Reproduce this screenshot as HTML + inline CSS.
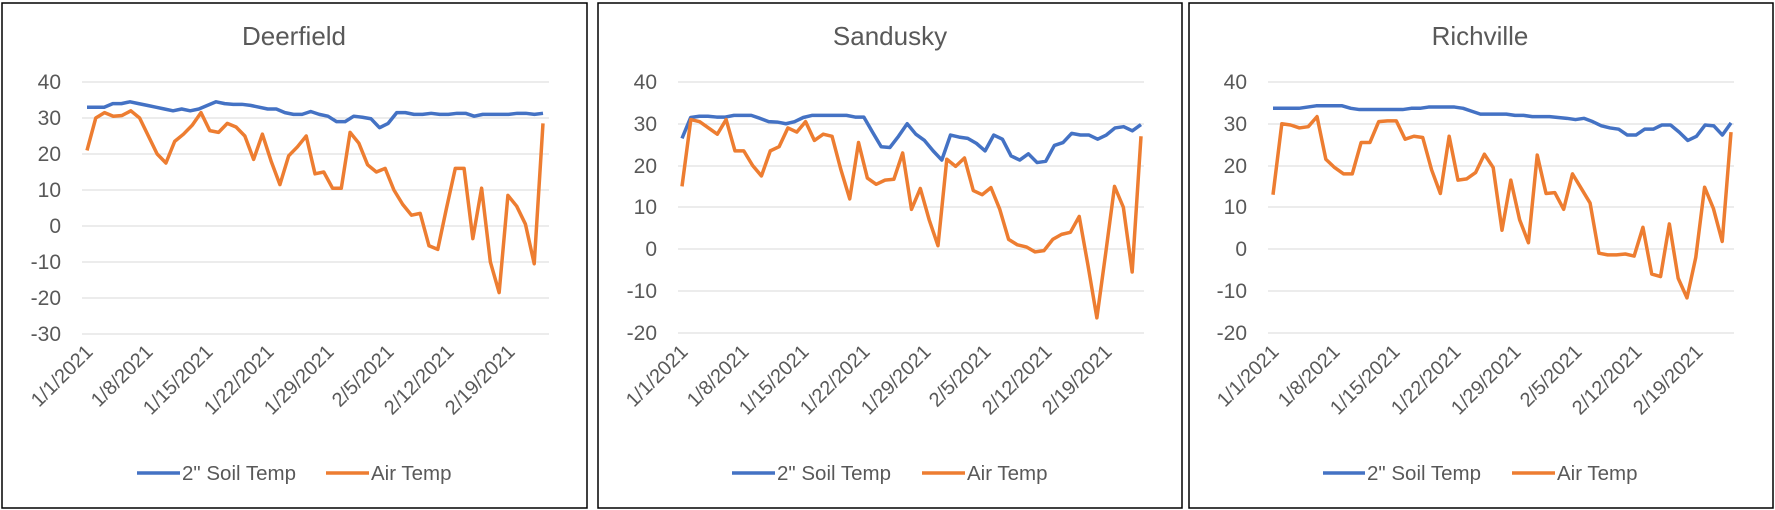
<!DOCTYPE html>
<html><head><meta charset="utf-8"><style>
html,body{margin:0;padding:0;background:#fff}
svg{display:block}
text{font-family:"Liberation Sans",Arial,sans-serif;fill:#595959}
.t{font-size:26px}
.y{font-size:21px;text-anchor:end}
.x{font-size:20px;text-anchor:end}
.l{font-size:20.5px}
.g{stroke:#d9d9d9;stroke-width:1}
.s{fill:none;stroke:#4472C4;stroke-width:3.5;vector-effect:non-scaling-stroke;stroke-linejoin:round}
.a{fill:none;stroke:#ED7D31;stroke-width:3.5;vector-effect:non-scaling-stroke;stroke-linejoin:round}
</style></head><body>
<svg width="1775" height="510" xmlns="http://www.w3.org/2000/svg">
<rect x="0" y="0" width="1775" height="510" fill="#fff"/>
<!-- Panel 1 -->
<rect x="2" y="3" width="585" height="505" fill="none" stroke="#000" stroke-width="1.5"/>
<text class="t" x="294" y="45" text-anchor="middle">Deerfield</text>
<g class="g">
<line x1="82" x2="549" y1="82" y2="82"/><line x1="82" x2="549" y1="118" y2="118"/><line x1="82" x2="549" y1="154" y2="154"/><line x1="82" x2="549" y1="190" y2="190"/><line x1="82" x2="549" y1="226" y2="226"/><line x1="82" x2="549" y1="262" y2="262"/><line x1="82" x2="549" y1="298" y2="298"/><line x1="82" x2="549" y1="334" y2="334"/>
</g>
<text class="y" x="61" y="89">40</text><text class="y" x="61" y="125">30</text><text class="y" x="61" y="161">20</text><text class="y" x="61" y="197">10</text><text class="y" x="61" y="233">0</text><text class="y" x="61" y="269">-10</text><text class="y" x="61" y="305">-20</text><text class="y" x="61" y="341">-30</text>
<g transform="translate(87,226) scale(8.604,-3.6)">
<polyline class="s" points="0,33 1,33 2,33 3,34 4,34 5,34.5 6,34 7,33.5 8,33 9,32.5 10,32 11,32.5 12,32 13,32.5 14,33.5 15,34.5 16,34 17,33.8 18,33.8 19,33.5 20,33 21,32.5 22,32.5 23,31.5 24,31 25,31 26,31.8 27,31 28,30.5 29,29 30,29 31,30.5 32,30.2 33,29.8 34,27.3 35,28.5 36,31.5 37,31.5 38,31 39,31 40,31.3 41,31 42,31 43,31.3 44,31.3 45,30.5 46,31 47,31 48,31 49,31 50,31.3 51,31.3 52,31 53,31.3"/>
</g>
<g transform="translate(87,226) scale(8.769,-3.6)">
<polyline class="a" points="0,21 1,30 2,31.5 3,30.5 4,30.7 5,32 6,30 7,25 8,20 9,17.5 10,23.5 11,25.5 12,28 13,31.5 14,26.5 15,26 16,28.5 17,27.5 18,25 19,18.5 20,25.5 21,18 22,11.5 23,19.5 24,22 25,25 26,14.5 27,15 28,10.5 29,10.5 30,26 31,23 32,17 33,15 34,16 35,10 36,6 37,3 38,3.5 39,-5.5 40,-6.5 41,5 42,16 43,16 44,-3.5 45,10.5 46,-10 47,-18.5 48,8.5 49,5.5 50,0.5 51,-10.5 52,28.5"/>
</g>
<text class="x" transform="translate(94,353) rotate(-45)">1/1/2021</text>
<text class="x" transform="translate(154,353) rotate(-45)">1/8/2021</text>
<text class="x" transform="translate(214,353) rotate(-45)">1/15/2021</text>
<text class="x" transform="translate(275,353) rotate(-45)">1/22/2021</text>
<text class="x" transform="translate(335,353) rotate(-45)">1/29/2021</text>
<text class="x" transform="translate(395,353) rotate(-45)">2/5/2021</text>
<text class="x" transform="translate(455,353) rotate(-45)">2/12/2021</text>
<text class="x" transform="translate(516,353) rotate(-45)">2/19/2021</text>
<line x1="137" x2="180" y1="473" y2="473" stroke="#4472C4" stroke-width="3.5"/>
<text class="l" x="182" y="480">2" Soil Temp</text>
<line x1="326" x2="369" y1="473" y2="473" stroke="#ED7D31" stroke-width="3.5"/>
<text class="l" x="371" y="480">Air Temp</text>

<!-- Panel 2 -->
<rect x="598" y="3" width="584" height="505" fill="none" stroke="#000" stroke-width="1.5"/>
<text class="t" x="890" y="45" text-anchor="middle">Sandusky</text>
<g class="g">
<line x1="678" x2="1144" y1="82" y2="82"/><line x1="678" x2="1144" y1="124" y2="124"/><line x1="678" x2="1144" y1="166" y2="166"/><line x1="678" x2="1144" y1="207" y2="207"/><line x1="678" x2="1144" y1="249" y2="249"/><line x1="678" x2="1144" y1="291" y2="291"/><line x1="678" x2="1144" y1="333" y2="333"/>
</g>
<text class="y" x="657" y="89">40</text><text class="y" x="657" y="131">30</text><text class="y" x="657" y="173">20</text><text class="y" x="657" y="214">10</text><text class="y" x="657" y="256">0</text><text class="y" x="657" y="298">-10</text><text class="y" x="657" y="340">-20</text>
<g transform="translate(682,249) scale(8.66,-4.175)">
<polyline class="s" points="0,26.5 1,31.5 2,31.8 3,31.8 4,31.6 5,31.6 6,32 7,32 8,32 9,31.3 10,30.5 11,30.4 12,30 13,30.5 14,31.5 15,32 16,32 17,32 18,32 19,32 20,31.6 21,31.6 22,28 23,24.5 24,24.3 25,27 26,30 27,27.5 28,26 29,23.5 30,21.3 31,27.3 32,26.8 33,26.5 34,25.3 35,23.5 36,27.3 37,26.3 38,22.3 39,21.3 40,22.8 41,20.7 42,21 43,24.8 44,25.5 45,27.7 46,27.3 47,27.3 48,26.3 49,27.3 50,29 51,29.3 52,28.3 53,29.8"/>
</g>
<g transform="translate(682,249) scale(8.827,-4.175)">
<polyline class="a" points="0,15 1,31 2,30.5 3,29 4,27.5 5,31 6,23.5 7,23.5 8,20 9,17.5 10,23.5 11,24.5 12,29 13,28 14,30.5 15,26 16,27.5 17,27 18,19 19,12 20,25.5 21,17 22,15.5 23,16.5 24,16.7 25,23 26,9.5 27,14.5 28,7 29,0.8 30,21.5 31,19.8 32,21.8 33,14 34,13 35,14.7 36,9.5 37,2.3 38,1 39,0.5 40,-0.7 41,-0.4 42,2.3 43,3.5 44,4 45,7.8 46,-4 47,-16.5 48,-1 49,15 50,10 51,-5.5 52,27"/>
</g>
<text class="x" transform="translate(689,353) rotate(-45)">1/1/2021</text>
<text class="x" transform="translate(750,353) rotate(-45)">1/8/2021</text>
<text class="x" transform="translate(810,353) rotate(-45)">1/15/2021</text>
<text class="x" transform="translate(871,353) rotate(-45)">1/22/2021</text>
<text class="x" transform="translate(932,353) rotate(-45)">1/29/2021</text>
<text class="x" transform="translate(992,353) rotate(-45)">2/5/2021</text>
<text class="x" transform="translate(1053,353) rotate(-45)">2/12/2021</text>
<text class="x" transform="translate(1113,353) rotate(-45)">2/19/2021</text>
<line x1="732" x2="775" y1="473" y2="473" stroke="#4472C4" stroke-width="3.5"/>
<text class="l" x="777" y="480">2" Soil Temp</text>
<line x1="922" x2="965" y1="473" y2="473" stroke="#ED7D31" stroke-width="3.5"/>
<text class="l" x="967" y="480">Air Temp</text>

<!-- Panel 3 -->
<rect x="1189" y="3" width="584" height="505" fill="none" stroke="#000" stroke-width="1.5"/>
<text class="t" x="1480" y="45" text-anchor="middle">Richville</text>
<g class="g">
<line x1="1268" x2="1734" y1="82" y2="82"/><line x1="1268" x2="1734" y1="124" y2="124"/><line x1="1268" x2="1734" y1="166" y2="166"/><line x1="1268" x2="1734" y1="207" y2="207"/><line x1="1268" x2="1734" y1="249" y2="249"/><line x1="1268" x2="1734" y1="291" y2="291"/><line x1="1268" x2="1734" y1="333" y2="333"/>
</g>
<text class="y" x="1247" y="89">40</text><text class="y" x="1247" y="131">30</text><text class="y" x="1247" y="173">20</text><text class="y" x="1247" y="214">10</text><text class="y" x="1247" y="256">0</text><text class="y" x="1247" y="298">-10</text><text class="y" x="1247" y="340">-20</text>
<g transform="translate(1273,249) scale(8.642,-4.175)">
<polyline class="s" points="0,33.7 1,33.7 2,33.7 3,33.7 4,34 5,34.3 6,34.3 7,34.3 8,34.3 9,33.7 10,33.4 11,33.4 12,33.4 13,33.4 14,33.4 15,33.4 16,33.7 17,33.7 18,34 19,34 20,34 21,34 22,33.7 23,33 24,32.3 25,32.3 26,32.3 27,32.3 28,32 29,32 30,31.7 31,31.7 32,31.7 33,31.5 34,31.3 35,31 36,31.3 37,30.5 38,29.5 39,29 40,28.7 41,27.3 42,27.3 43,28.7 44,28.7 45,29.7 46,29.7 47,28 48,26 49,27 50,29.7 51,29.5 52,27.3 53,30.2"/>
</g>
<g transform="translate(1273,249) scale(8.808,-4.175)">
<polyline class="a" points="0,13 1,30 2,29.7 3,29 4,29.3 5,31.7 6,21.5 7,19.5 8,18 9,18 10,25.5 11,25.5 12,30.5 13,30.7 14,30.7 15,26.3 16,27 17,26.7 18,19 19,13.3 20,27 21,16.5 22,16.8 23,18.3 24,22.7 25,19.5 26,4.5 27,16.5 28,7 29,1.5 30,22.5 31,13.3 32,13.5 33,9.5 34,18 35,14.5 36,11 37,-1 38,-1.4 39,-1.4 40,-1.2 41,-1.7 42,5.2 43,-6 44,-6.6 45,6 46,-7 47,-11.7 48,-2 49,14.8 50,9.7 51,1.8 52,28"/>
</g>
<text class="x" transform="translate(1280,353) rotate(-45)">1/1/2021</text>
<text class="x" transform="translate(1341,353) rotate(-45)">1/8/2021</text>
<text class="x" transform="translate(1401,353) rotate(-45)">1/15/2021</text>
<text class="x" transform="translate(1462,353) rotate(-45)">1/22/2021</text>
<text class="x" transform="translate(1522,353) rotate(-45)">1/29/2021</text>
<text class="x" transform="translate(1583,353) rotate(-45)">2/5/2021</text>
<text class="x" transform="translate(1643,353) rotate(-45)">2/12/2021</text>
<text class="x" transform="translate(1704,353) rotate(-45)">2/19/2021</text>
<line x1="1323" x2="1365" y1="473" y2="473" stroke="#4472C4" stroke-width="3.5"/>
<text class="l" x="1367" y="480">2" Soil Temp</text>
<line x1="1512" x2="1555" y1="473" y2="473" stroke="#ED7D31" stroke-width="3.5"/>
<text class="l" x="1557" y="480">Air Temp</text>
</svg>
</body></html>
